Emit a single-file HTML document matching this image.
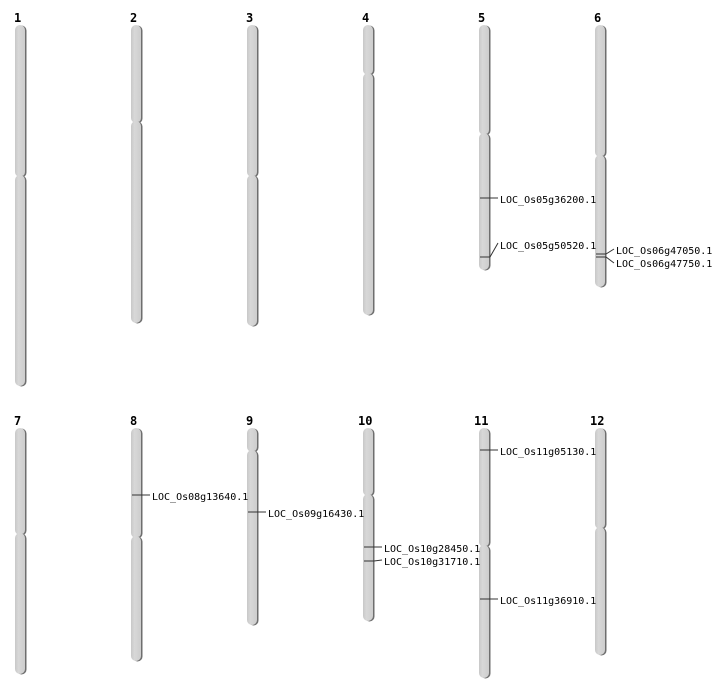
<!DOCTYPE html>
<html><head><meta charset="utf-8"><style>
html,body{margin:0;padding:0;background:#fff;}
svg{display:block}
text{font-family:"DejaVu Sans Mono","Liberation Mono",monospace;font-size:10px;fill:#000}
.n{font-weight:bold;font-size:12px}
</style></head><body>
<svg width="712" height="700" viewBox="0 0 712 700" xmlns="http://www.w3.org/2000/svg">
<defs>
<linearGradient id="g" x1="0" x2="1" y1="0" y2="0">
<stop offset="0" stop-color="#c8c8c8"/><stop offset="0.35" stop-color="#d8d8d8"/><stop offset="1" stop-color="#cdcdcd"/>
</linearGradient>
</defs>
<g id="chr"></g>
<g stroke="#333" stroke-width="1" fill="none">
<path d="M480 198H498"/>
<path d="M480 257H490L498 243"/>
<path d="M596 254H606L614 249"/>
<path d="M596 257H606L614 263"/>
<path d="M132 495H150"/>
<path d="M248 512H266"/>
<path d="M364 547H382"/>
<path d="M364 561H374L382 560"/>
<path d="M480 450H498"/>
<path d="M480 599H498"/>
</g>
<text x="500" y="203">LOC_Os05g36200.1</text>
<text x="500" y="249">LOC_Os05g50520.1</text>
<text x="616" y="254">LOC_Os06g47050.1</text>
<text x="616" y="267">LOC_Os06g47750.1</text>
<text x="152" y="500">LOC_Os08g13640.1</text>
<text x="268" y="517">LOC_Os09g16430.1</text>
<text x="384" y="552">LOC_Os10g28450.1</text>
<text x="384" y="565">LOC_Os10g31710.1</text>
<text x="500" y="455">LOC_Os11g05130.1</text>
<text x="500" y="604">LOC_Os11g36910.1</text>
<text class="n" x="14" y="22">1</text>
<text class="n" x="130" y="22">2</text>
<text class="n" x="246" y="22">3</text>
<text class="n" x="362" y="22">4</text>
<text class="n" x="478" y="22">5</text>
<text class="n" x="594" y="22">6</text>
<text class="n" x="14" y="425">7</text>
<text class="n" x="130" y="425">8</text>
<text class="n" x="246" y="425">9</text>
<text class="n" x="358" y="425">10</text>
<text class="n" x="474" y="425">11</text>
<text class="n" x="590" y="425">12</text>
</svg>
<script>
var chrs=[[15,25,176,386],[131,25,122,323],[247,25,176,326],[363,25,74,315],[479,25,134,270],[595,25,156,287],
[15,428,534,674],[131,428,537,661],[247,428,451,625],[363,428,495,621],[479,428,546,678],[595,428,528,655]];
var g=document.getElementById('chr'),s='';
function seg(x,y1,y2){
 s+='<rect x="'+(x+1.5)+'" y="'+(y1+0.5)+'" width="10" height="'+(y2-y1)+'" rx="5" fill="#6e6e6e"/>';
 s+='<rect x="'+x+'" y="'+y1+'" width="10" height="'+(y2-y1)+'" rx="5" fill="url(#g)"/>';
}
chrs.forEach(function(c){seg(c[0],c[1],c[2]+1);seg(c[0],c[2]-1,c[3]);});
g.innerHTML=s;
</script>
</body></html>
